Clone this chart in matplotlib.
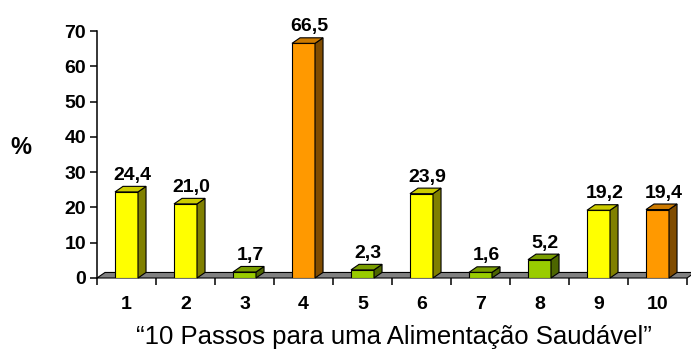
import matplotlib.pyplot as plt
from matplotlib.patches import Polygon

plt.rcParams['font.family'] = ['Liberation Sans', 'DejaVu Sans']

# data
steps = [1, 2, 3, 4, 5, 6, 7, 8, 9, 10]
values = [24.4, 21.0, 1.7, 66.5, 2.3, 23.9, 1.6, 5.2, 19.2, 19.4]
labels = ["24,4", "21,0", "1,7", "66,5", "2,3", "23,9", "1,6", "5,2", "19,2", "19,4"]
groups = ["y", "y", "g", "o", "g", "y", "g", "g", "y", "o"]

# front / top / side colours for each group
front = {"y": "#FFFF00", "g": "#99CC00", "o": "#FF9900"}
top = {"y": "#CCCC00", "g": "#7A9E00", "o": "#CC7A00"}
side = {"y": "#808000", "g": "#4D6600", "o": "#804C00"}

fig = plt.figure(figsize=(6.91, 3.49), dpi=100)
ax = fig.add_axes([97 / 691, 71 / 349, 590 / 691, 247 / 349])

w = 0.39      # front face width
dx = 0.136    # depth offset in x (data units)
dy = 1.57     # depth offset in y (data units)

# gray floor
floor = Polygon([(0.5, 0), (0.5 + dx, dy), (10.5 + dx, dy), (10.5, 0)],
                closed=True, facecolor="#808080", edgecolor="black",
                linewidth=0.8, clip_on=False, zorder=1)
ax.add_patch(floor)

ax.bar(steps, values, width=w, color=[front[g] for g in groups],
       edgecolor="black", linewidth=0.8, zorder=3)

for x, v, g, lab in zip(steps, values, groups, labels):
    r = x + w / 2
    l = x - w / 2
    ax.add_patch(Polygon([(r, 0), (r + dx, dy), (r + dx, v + dy), (r, v)],
                         closed=True, facecolor=side[g], edgecolor="black",
                         linewidth=0.8, clip_on=False, zorder=3))
    ax.add_patch(Polygon([(l, v), (l + dx, v + dy), (r + dx, v + dy), (r, v)],
                         closed=True, facecolor=top[g], edgecolor="black",
                         linewidth=0.8, clip_on=False, zorder=3))
    ax.text(x + 0.1, v + 3.4, lab, ha="center", va="baseline",
            fontsize=14, fontweight="bold", clip_on=False)

ax.set_xlim(0.5, 10.5)
ax.set_ylim(0, 70)
ax.set_yticks(range(0, 80, 10))
ax.set_xticks(steps)
ax.set_xticklabels([str(s) for s in steps])
ax.set_xticks([s + 0.5 for s in range(0, 11)], minor=True)

for s in ["top", "right", "bottom"]:
    ax.spines[s].set_visible(False)
ax.spines["left"].set_linewidth(1.1)

ax.tick_params(axis="y", length=5, width=1.1, pad=3, labelsize=14)
ax.tick_params(axis="x", which="major", length=0, pad=13, labelsize=14)
ax.tick_params(axis="x", which="minor", length=5, width=1.1)
for t in ax.get_xticklabels() + ax.get_yticklabels():
    t.set_fontweight("bold")

fig.text(21 / 691, 1 - 147 / 349, "%", ha="center", va="center",
         fontsize=17, fontweight="bold")
fig.text(393.5 / 691, 1 - 344 / 349,
         "\u201c10 Passos para uma Alimentação Saudável\u201d",
         ha="center", va="baseline", fontsize=18.5)

fig.savefig("out.png", dpi=100)
